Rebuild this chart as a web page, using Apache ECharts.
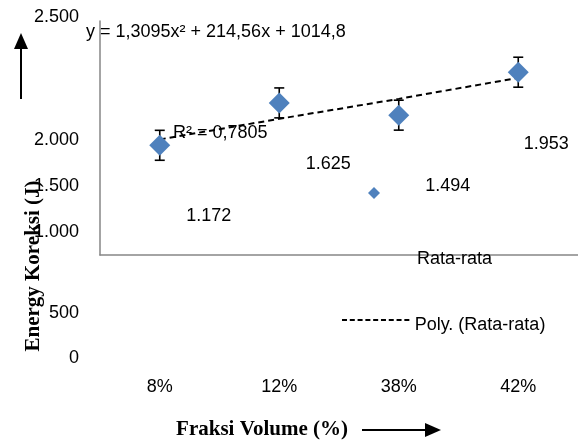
<!DOCTYPE html>
<html>
<head>
<meta charset="utf-8">
<script src="https://cdn.jsdelivr.net/npm/echarts@6/dist/echarts.min.js"></script>
<style>
html,body{margin:0;padding:0;background:#fff;}
#chart{width:578px;height:443px;}
</style>
</head>
<body>
<div id="chart"></div>
<script>
// ---- data ----
const categories = ['8%', '12%', '38%', '42%'];
const rataRata = [1172, 1625, 1494, 1953];
const errorBar = [160, 160, 160, 160];
const polyTrend = [1235, 1455, 1668, 1893];
const yTickLabels = ['0', '500', '1.000', '1.500', '2.000', '2.500'];
const equationText = 'y = 1,3095x\u00B2 + 214,56x + 1014,8';
const r2Text = 'R\u00B2 = 0,7805';

// ---- layout (the reference has displaced labels) ----
const yTickLabelCenters = [358, 313, 232, 186, 140, 17];
const dataLabelOffsets = [[49, 71], [49, 61], [49, 71], [28, 72]];

const FONT = '"Liberation Sans", Arial, sans-serif';
const SERIF = '"Liberation Serif", "Times New Roman", serif';

function fmt(v) {
  return String(v).replace(/\B(?=(\d{3})+(?!\d))/g, '.');
}

// dashed-line legend icon (dashes at the top of a 12px tall box)
let dashPath = 'path://';
for (let k = 0; k < 9; k++) {
  const x0 = k * 7.8;
  dashPath += 'M' + x0 + ',0h5v2h-5z';
}
dashPath += 'M0,12h0.01v0.01h-0.01z';

const chart = echarts.init(document.getElementById('chart'));

const graphics = [];
yTickLabels.forEach((t, i) => {
  graphics.push({
    type: 'text',
    style: { x: 79, y: yTickLabelCenters[i], text: t, textAlign: 'right', textVerticalAlign: 'middle',
      font: '18px ' + FONT, fill: '#000' }
  });
});
graphics.push(
  { type: 'text', z: 20, style: { x: 86, y: 32, text: equationText, textAlign: 'left', textVerticalAlign: 'middle', font: '18px ' + FONT, fill: '#000' } },
  { type: 'text', z: 20, style: { x: 173, y: 133, text: r2Text, textAlign: 'left', textVerticalAlign: 'middle', font: '18px ' + FONT, fill: '#000' } },
  { type: 'text', rotation: Math.PI / 2, x: 34, y: 266,
    style: { x: 0, y: 0, text: 'Energy Koreksi (J)', textAlign: 'center', textVerticalAlign: 'middle', font: 'bold 21px ' + SERIF, fill: '#000' } },
  { type: 'text', style: { x: 262, y: 430, text: 'Fraksi Volume (%)', textAlign: 'center', textVerticalAlign: 'middle', font: 'bold 21px ' + SERIF, fill: '#000' } },
  // right arrow
  { type: 'line', shape: { x1: 362, y1: 430, x2: 428, y2: 430 }, style: { stroke: '#000', lineWidth: 2 } },
  { type: 'polygon', shape: { points: [[425, 423], [441, 430], [425, 437]] }, style: { fill: '#000' } },
  // up arrow
  { type: 'line', shape: { x1: 21, y1: 46, x2: 21, y2: 99 }, style: { stroke: '#000', lineWidth: 2 } },
  { type: 'polygon', shape: { points: [[14, 49], [21, 33], [28, 49]] }, style: { fill: '#000' } }
);

const option = {
  backgroundColor: '#fff',
  animation: false,
  textStyle: { fontFamily: FONT },
  grid: { left: 100, right: 0, top: 21, bottom: 188, containLabel: false },
  xAxis: {
    type: 'category',
    data: categories,
    boundaryGap: true,
    axisLine: { lineStyle: { color: '#868686', width: 1.5 } },
    axisTick: { show: false },
    axisLabel: { margin: 123, fontSize: 18, color: '#000', fontFamily: FONT }
  },
  yAxis: {
    type: 'value',
    min: 0, max: 2500, interval: 500,
    axisLine: { show: true, lineStyle: { color: '#868686', width: 1.5 } },
    axisTick: { show: false },
    axisLabel: { show: false },
    splitLine: { show: false }
  },
  legend: [
    { data: ['Rata-rata'], left: 368, top: 187, icon: 'diamond', itemWidth: 12, itemHeight: 12,
      formatter: () => '', selectedMode: false, padding: 0,
      itemStyle: { color: '#4F81BD', opacity: 1 } },
    { data: ['Rata-rata'], left: 412, top: 250, icon: 'rect', itemWidth: 0, itemHeight: 0,
      selectedMode: false, padding: 0, textStyle: { fontSize: 18, color: '#000', fontFamily: FONT } },
    { data: [{ name: 'Poly. (Rata-rata)', icon: dashPath }], left: 342, top: 316, itemWidth: 68, itemHeight: 12,
      selectedMode: false, padding: 0,
      itemStyle: { color: '#000', borderWidth: 0 },
      textStyle: { fontSize: 18, color: '#000', fontFamily: FONT } }
  ],
  series: [
    {
      name: 'Poly. (Rata-rata)',
      type: 'line',
      data: polyTrend,
      symbol: 'none',
      z: 2,
      lineStyle: { color: '#000', width: 2, type: [6, 4] },
      itemStyle: { color: '#000' }
    },
    {
      name: 'errors',
      type: 'custom',
      z: 3,
      data: categories.map((c, i) => [i, rataRata[i], errorBar[i]]),
      renderItem: function (params, api) {
        const x = api.value(0), v = api.value(1), e = api.value(2);
        const top = api.coord([x, v + e]);
        const bot = api.coord([x, v - e]);
        const hw = 5;
        const st = { stroke: '#000', lineWidth: 1.6 };
        return {
          type: 'group',
          children: [
            { type: 'line', shape: { x1: top[0], y1: top[1], x2: bot[0], y2: bot[1] }, style: st },
            { type: 'line', shape: { x1: top[0] - hw, y1: top[1], x2: top[0] + hw, y2: top[1] }, style: st },
            { type: 'line', shape: { x1: bot[0] - hw, y1: bot[1], x2: bot[0] + hw, y2: bot[1] }, style: st }
          ]
        };
      }
    },
    {
      name: 'Rata-rata',
      type: 'scatter',
      z: 5,
      symbol: 'diamond',
      symbolSize: 21,
      itemStyle: { color: '#4F81BD', opacity: 1 },
      data: rataRata.map((v, i) => ({
        value: v,
        label: { offset: dataLabelOffsets[i] }
      })),
      label: {
        show: true,
        position: 'inside',
        formatter: p => fmt(p.value),
        fontSize: 18,
        color: '#000',
        fontFamily: FONT
      }
    }
  ],
  graphic: graphics
};

chart.setOption(option);
</script>
</body>
</html>
